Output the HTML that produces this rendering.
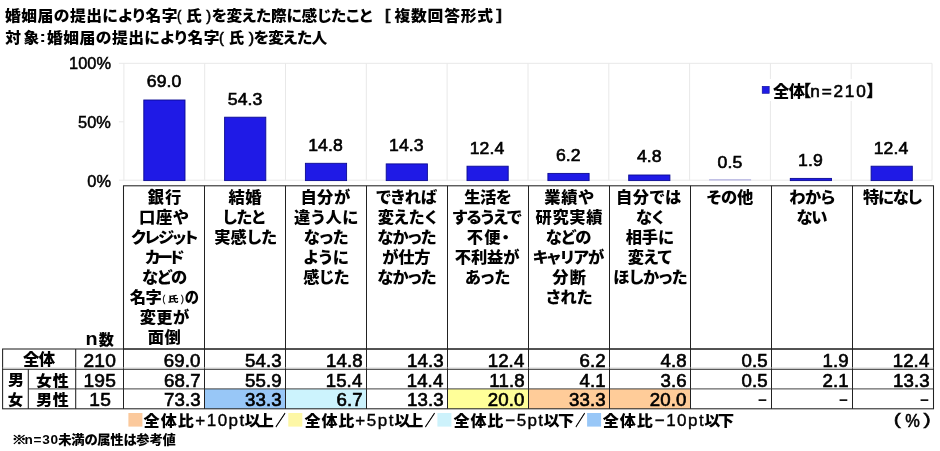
<!DOCTYPE html>
<html lang="ja"><head><meta charset="utf-8"><title>婚姻届の提出により名字（氏）を変えた際に感じたこと</title>
<style>html,body{margin:0;padding:0;background:#fff}body{width:940px;height:451px;overflow:hidden}svg{display:block;will-change:transform;opacity:.999}text{font-family:"Liberation Sans","Noto Sans CJK JP",sans-serif;fill:#000}</style></head><body>
<svg width="940" height="451" viewBox="0 0 940 451">
<rect width="940" height="451" fill="#fff"/>
<text transform="translate(5.03 20.90) scale(1.030 1)" font-size="15.30" font-weight="900" letter-spacing="0.51" style="font-feature-settings:'palt'">婚姻届の提出により名字</text>
<text transform="translate(176.92 20.60) scale(0.844 1)" font-size="15.50" font-weight="400" stroke="#000" stroke-width="0.60">(</text>
<text transform="translate(186.11 20.90) scale(1.033 1)" font-size="15.30" font-weight="900" style="font-feature-settings:'palt'">氏</text>
<text transform="translate(206.25 20.60) scale(0.943 1)" font-size="15.50" font-weight="400" stroke="#000" stroke-width="0.60">)</text>
<text transform="translate(211.71 20.90) scale(1.030 1)" font-size="15.30" font-weight="900" letter-spacing="-0.18" style="font-feature-settings:'palt'">を変えた際に感じたこと</text>
<text transform="translate(384.80 20.30) scale(1.290 1)" font-size="15.50" font-weight="400" stroke="#000" stroke-width="0.70">[</text>
<text transform="translate(394.44 20.90) scale(1.030 1)" font-size="15.30" font-weight="900" letter-spacing="0.80" style="font-feature-settings:'palt'">複数回答形式</text>
<text transform="translate(496.40 20.30) scale(1.323 1)" font-size="15.50" font-weight="400" stroke="#000" stroke-width="0.70">]</text>
<text transform="translate(5.18 43.00) scale(1.030 1)" font-size="15.30" font-weight="900" letter-spacing="2.50" style="font-feature-settings:'palt'">対象</text>
<text transform="translate(39.23 42.40) scale(1.336 1)" font-size="15.50" font-weight="700">:</text>
<text transform="translate(47.03 43.00) scale(1.030 1)" font-size="15.30" font-weight="900" letter-spacing="0.51" style="font-feature-settings:'palt'">婚姻届の提出により名字</text>
<text transform="translate(219.12 42.70) scale(0.943 1)" font-size="15.50" font-weight="400" stroke="#000" stroke-width="0.60">(</text>
<text transform="translate(228.63 43.00) scale(1.005 1)" font-size="15.30" font-weight="900" style="font-feature-settings:'palt'">氏</text>
<text transform="translate(248.64 42.70) scale(1.042 1)" font-size="15.50" font-weight="400" stroke="#000" stroke-width="0.60">)</text>
<text transform="translate(253.61 43.00) scale(1.030 1)" font-size="15.30" font-weight="900" letter-spacing="-0.50" style="font-feature-settings:'palt'">を変えた人</text>
<g stroke="#e8e8e8" stroke-width="1" fill="none">
<line x1="118.9" y1="63.3" x2="932.0" y2="63.3"/>
<line x1="118.9" y1="121.8" x2="123.9" y2="121.8"/>
<line x1="118.9" y1="180.2" x2="932.0" y2="180.2"/>
<line x1="123.9" y1="63.3" x2="123.9" y2="180.2"/>
<line x1="204.7" y1="63.3" x2="204.7" y2="180.2"/>
<line x1="285.5" y1="63.3" x2="285.5" y2="180.2"/>
<line x1="366.3" y1="63.3" x2="366.3" y2="180.2"/>
<line x1="447.1" y1="63.3" x2="447.1" y2="180.2"/>
<line x1="528.0" y1="63.3" x2="528.0" y2="180.2"/>
<line x1="608.8" y1="63.3" x2="608.8" y2="180.2"/>
<line x1="689.6" y1="63.3" x2="689.6" y2="180.2"/>
<line x1="770.4" y1="63.3" x2="770.4" y2="180.2"/>
<line x1="851.2" y1="63.3" x2="851.2" y2="180.2"/>
<line x1="932.0" y1="63.3" x2="932.0" y2="180.2"/>
</g>
<text x="69.07" y="69.30" font-size="16.40" font-weight="400" stroke="#000" stroke-width="0.50">100%</text>
<text x="78.09" y="128.30" font-size="16.40" font-weight="400" stroke="#000" stroke-width="0.50">50%</text>
<text x="87.28" y="187.20" font-size="16.40" font-weight="400" stroke="#000" stroke-width="0.50">0%</text>
<rect x="757" y="79" width="122" height="22" fill="#fff"/>
<rect x="762.2" y="86.3" width="7" height="7" fill="#1f1be4" stroke="#0c0c96" stroke-width="0.6"/>
<text transform="translate(772.88 96.50) scale(1.040 1)" font-size="15.60" font-weight="900" letter-spacing="-0.44">全体</text>
<text transform="translate(802.63 96.30) scale(1.009 1)" font-size="15.80" font-weight="900" stroke="#000" stroke-width="0.50" style="font-feature-settings:'palt'">【</text>
<text x="810.30" y="96.60" font-size="17.20" font-weight="400" letter-spacing="1.79" stroke="#000" stroke-width="0.60">n=210</text>
<text transform="translate(866.80 96.30) scale(1.009 1)" font-size="15.80" font-weight="900" stroke="#000" stroke-width="0.50" style="font-feature-settings:'palt'">】</text>
<rect x="143.8" y="100.0" width="41.2" height="80.6" fill="#1f1ae6" stroke="#0b0b92" stroke-width="0.9"/>
<text transform="translate(146.76 87.44) scale(1.050 1)" font-size="16.80" font-weight="400" letter-spacing="0.10" stroke="#000" stroke-width="0.60">69.0</text>
<rect x="224.6" y="117.2" width="41.2" height="63.4" fill="#1f1ae6" stroke="#0b0b92" stroke-width="0.9"/>
<text transform="translate(227.75 104.62) scale(1.050 1)" font-size="16.80" font-weight="400" letter-spacing="0.10" stroke="#000" stroke-width="0.60">54.3</text>
<rect x="305.4" y="163.3" width="41.2" height="17.3" fill="#1f1ae6" stroke="#0b0b92" stroke-width="0.9"/>
<text transform="translate(308.20 150.80) scale(1.050 1)" font-size="16.80" font-weight="400" letter-spacing="0.10" stroke="#000" stroke-width="0.60">14.8</text>
<rect x="386.2" y="163.9" width="41.2" height="16.7" fill="#1f1ae6" stroke="#0b0b92" stroke-width="0.9"/>
<text transform="translate(389.01 151.38) scale(1.050 1)" font-size="16.80" font-weight="400" letter-spacing="0.10" stroke="#000" stroke-width="0.60">14.3</text>
<rect x="467.0" y="166.2" width="41.2" height="14.4" fill="#1f1ae6" stroke="#0b0b92" stroke-width="0.9"/>
<text transform="translate(469.65 153.60) scale(1.050 1)" font-size="16.80" font-weight="400" letter-spacing="0.10" stroke="#000" stroke-width="0.60">12.4</text>
<rect x="547.9" y="173.4" width="41.2" height="7.2" fill="#1f1ae6" stroke="#0b0b92" stroke-width="0.9"/>
<text transform="translate(555.89 160.85) scale(1.050 1)" font-size="16.80" font-weight="400" letter-spacing="0.10" stroke="#000" stroke-width="0.60">6.2</text>
<rect x="628.7" y="175.0" width="41.2" height="5.6" fill="#1f1ae6" stroke="#0b0b92" stroke-width="0.9"/>
<text transform="translate(636.88 162.49) scale(1.050 1)" font-size="16.80" font-weight="400" letter-spacing="0.10" stroke="#000" stroke-width="0.60">4.8</text>
<rect x="709.1" y="179.2" width="42" height="1.3" fill="#b3b2e0"/>
<text transform="translate(717.51 167.52) scale(1.050 1)" font-size="16.80" font-weight="400" letter-spacing="0.10" stroke="#000" stroke-width="0.60">0.5</text>
<rect x="790.3" y="178.4" width="41.2" height="2.2" fill="#1f1ae6" stroke="#0b0b92" stroke-width="0.9"/>
<text transform="translate(798.06 165.88) scale(1.050 1)" font-size="16.80" font-weight="400" letter-spacing="0.10" stroke="#000" stroke-width="0.60">1.9</text>
<rect x="871.1" y="166.2" width="41.2" height="14.4" fill="#1f1ae6" stroke="#0b0b92" stroke-width="0.9"/>
<text transform="translate(873.70 153.60) scale(1.050 1)" font-size="16.80" font-weight="400" letter-spacing="0.10" stroke="#000" stroke-width="0.60">12.4</text>
<rect x="204.5" y="388.9" width="81.0" height="19.9" fill="#98c7f7"/>
<rect x="285.5" y="388.9" width="81.0" height="19.9" fill="#ccf3fd"/>
<rect x="447.5" y="388.9" width="81.0" height="19.9" fill="#ffff99"/>
<rect x="528.5" y="388.9" width="81.0" height="19.9" fill="#ffcc99"/>
<rect x="609.5" y="388.9" width="81.0" height="19.9" fill="#ffcc99"/>
<g stroke="#222" stroke-width="1.05" fill="none">
<rect x="123.5" y="185.8" width="810.0" height="163.2"/>
<line x1="204.5" y1="185.8" x2="204.5" y2="408.8"/>
<line x1="285.5" y1="185.8" x2="285.5" y2="408.8"/>
<line x1="366.5" y1="185.8" x2="366.5" y2="408.8"/>
<line x1="447.5" y1="185.8" x2="447.5" y2="408.8"/>
<line x1="528.5" y1="185.8" x2="528.5" y2="408.8"/>
<line x1="609.5" y1="185.8" x2="609.5" y2="408.8"/>
<line x1="690.5" y1="185.8" x2="690.5" y2="408.8"/>
<line x1="771.5" y1="185.8" x2="771.5" y2="408.8"/>
<line x1="852.5" y1="185.8" x2="852.5" y2="408.8"/>
<rect x="2.6" y="349.0" width="930.9" height="59.8"/>
<line x1="2.6" y1="369.3" x2="933.5" y2="369.3"/>
<line x1="28.3" y1="369.3" x2="28.3" y2="408.8"/>
<line x1="75.7" y1="349.0" x2="75.7" y2="408.8"/>
<line x1="123.5" y1="349.0" x2="123.5" y2="408.8"/>
</g>
<line x1="2.6" y1="367.9" x2="933.5" y2="367.9" stroke="#cfcfcf" stroke-width="0.7"/>
<line x1="28.3" y1="388.9" x2="933.5" y2="388.9" stroke="#383838" stroke-width="0.95"/>
<text transform="translate(147.74 203.00) scale(1.050 1)" font-size="15.50" font-weight="900" letter-spacing="1.01" style="font-feature-settings:'palt'">銀行</text>
<text transform="translate(138.94 223.00) scale(1.050 1)" font-size="15.50" font-weight="900" letter-spacing="0.83" style="font-feature-settings:'palt'">口座や</text>
<text transform="translate(131.31 243.00) scale(1.050 1)" font-size="15.50" font-weight="900" letter-spacing="-1.42" style="font-feature-settings:'palt'">クレジット</text>
<text transform="translate(145.01 263.00) scale(1.050 1)" font-size="15.50" font-weight="900" letter-spacing="-2.86" style="font-feature-settings:'palt'">カード</text>
<text transform="translate(141.89 283.00) scale(1.050 1)" font-size="15.50" font-weight="900" letter-spacing="-0.58" style="font-feature-settings:'palt'">などの</text>
<text transform="translate(129.67 303.00) scale(1.050 1)" font-size="15.50" font-weight="900" letter-spacing="-0.33" style="font-feature-settings:'palt'">名字</text>
<text transform="translate(162.42 301.80) scale(0.850 1)" font-size="9.50" font-weight="400" stroke="#000" stroke-width="0.30">(</text>
<text transform="translate(167.66 302.00) scale(1.311 1)" font-size="8.20" font-weight="900" style="font-feature-settings:'palt'">氏</text>
<text transform="translate(181.12 301.80) scale(0.891 1)" font-size="9.50" font-weight="400" stroke="#000" stroke-width="0.30">)</text>
<text transform="translate(184.79 303.00) scale(0.921 1)" font-size="15.50" font-weight="900" style="font-feature-settings:'palt'">の</text>
<text transform="translate(139.67 323.00) scale(1.050 1)" font-size="15.50" font-weight="900" letter-spacing="0.36" style="font-feature-settings:'palt'">変更が</text>
<text transform="translate(147.69 343.00) scale(1.050 1)" font-size="15.50" font-weight="900" letter-spacing="0.55" style="font-feature-settings:'palt'">面倒</text>
<text transform="translate(228.54 203.00) scale(1.050 1)" font-size="15.50" font-weight="900" letter-spacing="0.55" style="font-feature-settings:'palt'">結婚</text>
<text transform="translate(222.82 223.00) scale(1.050 1)" font-size="15.50" font-weight="900" letter-spacing="-0.54" style="font-feature-settings:'palt'">したと</text>
<text transform="translate(214.25 243.00) scale(1.050 1)" font-size="15.50" font-weight="900" letter-spacing="0.07" style="font-feature-settings:'palt'">実感した</text>
<text transform="translate(300.38 203.00) scale(1.050 1)" font-size="15.50" font-weight="900" letter-spacing="0.45" style="font-feature-settings:'palt'">自分が</text>
<text transform="translate(294.07 223.00) scale(1.050 1)" font-size="15.50" font-weight="900" letter-spacing="0.75" style="font-feature-settings:'palt'">違う人に</text>
<text transform="translate(303.69 243.00) scale(1.050 1)" font-size="15.50" font-weight="900" letter-spacing="0.03" style="font-feature-settings:'palt'">なった</text>
<text transform="translate(303.36 263.00) scale(1.050 1)" font-size="15.50" font-weight="900" letter-spacing="0.73" style="font-feature-settings:'palt'">ように</text>
<text transform="translate(303.27 283.00) scale(1.050 1)" font-size="15.50" font-weight="900" letter-spacing="-0.19" style="font-feature-settings:'palt'">感じた</text>
<text transform="translate(376.27 203.00) scale(1.050 1)" font-size="15.50" font-weight="900" letter-spacing="-0.27" style="font-feature-settings:'palt'">できれば</text>
<text transform="translate(377.67 223.00) scale(1.050 1)" font-size="15.50" font-weight="900" letter-spacing="0.23" style="font-feature-settings:'palt'">変えたく</text>
<text transform="translate(377.19 243.00) scale(1.050 1)" font-size="15.50" font-weight="900" letter-spacing="-0.49" style="font-feature-settings:'palt'">なかった</text>
<text transform="translate(382.25 263.00) scale(1.050 1)" font-size="15.50" font-weight="900" letter-spacing="-0.17" style="font-feature-settings:'palt'">が仕方</text>
<text transform="translate(377.19 283.00) scale(1.050 1)" font-size="15.50" font-weight="900" letter-spacing="-0.49" style="font-feature-settings:'palt'">なかった</text>
<text transform="translate(464.17 203.00) scale(1.050 1)" font-size="15.50" font-weight="900" letter-spacing="-0.37" style="font-feature-settings:'palt'">生活を</text>
<text transform="translate(452.51 223.00) scale(1.050 1)" font-size="15.50" font-weight="900" letter-spacing="-0.64" style="font-feature-settings:'palt'">するうえで</text>
<text transform="translate(466.65 243.00) scale(1.050 1)" font-size="15.50" font-weight="900" letter-spacing="1.20" style="font-feature-settings:'palt'">不便・</text>
<text transform="translate(454.81 263.00) scale(1.050 1)" font-size="15.50" font-weight="900" letter-spacing="-0.14" style="font-feature-settings:'palt'">不利益が</text>
<text transform="translate(464.76 283.00) scale(1.050 1)" font-size="15.50" font-weight="900" letter-spacing="0.24" style="font-feature-settings:'palt'">あった</text>
<text transform="translate(544.17 203.00) scale(1.050 1)" font-size="15.50" font-weight="900" letter-spacing="0.86" style="font-feature-settings:'palt'">業績や</text>
<text transform="translate(535.57 223.00) scale(1.050 1)" font-size="15.50" font-weight="900" letter-spacing="0.59" style="font-feature-settings:'palt'">研究実績</text>
<text transform="translate(545.69 243.00) scale(1.050 1)" font-size="15.50" font-weight="900" letter-spacing="-0.39" style="font-feature-settings:'palt'">などの</text>
<text transform="translate(532.66 263.00) scale(1.050 1)" font-size="15.50" font-weight="900" letter-spacing="-0.60" style="font-feature-settings:'palt'">キャリアが</text>
<text transform="translate(552.14 283.00) scale(1.050 1)" font-size="15.50" font-weight="900" letter-spacing="1.27" style="font-feature-settings:'palt'">分断</text>
<text transform="translate(546.10 303.00) scale(1.050 1)" font-size="15.50" font-weight="900" letter-spacing="0.08" style="font-feature-settings:'palt'">された</text>
<text transform="translate(615.88 203.00) scale(1.050 1)" font-size="15.50" font-weight="900" letter-spacing="0.59" style="font-feature-settings:'palt'">自分では</text>
<text transform="translate(635.89 223.00) scale(1.050 1)" font-size="15.50" font-weight="900" letter-spacing="-0.04" style="font-feature-settings:'palt'">なく</text>
<text transform="translate(625.77 243.00) scale(1.050 1)" font-size="15.50" font-weight="900" letter-spacing="-0.16" style="font-feature-settings:'palt'">相手に</text>
<text transform="translate(627.77 263.00) scale(1.050 1)" font-size="15.50" font-weight="900" letter-spacing="-0.12" style="font-feature-settings:'palt'">変えて</text>
<text transform="translate(613.30 283.00) scale(1.050 1)" font-size="15.50" font-weight="900" letter-spacing="-0.29" style="font-feature-settings:'palt'">ほしかった</text>
<text transform="translate(706.59 203.00) scale(1.050 1)" font-size="15.50" font-weight="900" letter-spacing="-0.11" style="font-feature-settings:'palt'">その他</text>
<text transform="translate(789.09 203.00) scale(1.050 1)" font-size="15.50" font-weight="900" letter-spacing="-0.37" style="font-feature-settings:'palt'">わから</text>
<text transform="translate(796.39 223.00) scale(1.050 1)" font-size="15.50" font-weight="900" letter-spacing="-0.85" style="font-feature-settings:'palt'">ない</text>
<text transform="translate(862.94 203.00) scale(1.050 1)" font-size="15.50" font-weight="900" letter-spacing="-1.00" style="font-feature-settings:'palt'">特になし</text>
<text transform="translate(85.51 345.40) scale(1.100 1)" font-size="18.00" font-weight="700">n</text>
<text transform="translate(98.80 344.90) scale(0.994 1)" font-size="15.20" font-weight="900" style="font-feature-settings:'palt'">数</text>
<text transform="translate(22.97 365.20) scale(1.050 1)" font-size="15.60" font-weight="900" letter-spacing="-0.64">全体</text>
<text transform="translate(35.96 385.50) scale(1.050 1)" font-size="15.20" font-weight="900" letter-spacing="0.76">女性</text>
<text transform="translate(36.28 405.30) scale(1.050 1)" font-size="15.20" font-weight="900" letter-spacing="0.46">男性</text>
<text transform="translate(7.98 384.80) scale(1.083 1)" font-size="14.80" font-weight="900" style="font-feature-settings:'palt'">男</text>
<text transform="translate(7.69 405.20) scale(1.036 1)" font-size="14.80" font-weight="900" style="font-feature-settings:'palt'">女</text>
<text transform="translate(83.38 366.70) scale(1.090 1)" font-size="17.60" font-weight="400" letter-spacing="0.30" stroke="#000" stroke-width="0.62">210</text>
<text transform="translate(163.85 366.70) scale(1.060 1)" font-size="17.60" font-weight="400" letter-spacing="0.10" stroke="#000" stroke-width="0.62">69.0</text>
<text transform="translate(245.04 366.70) scale(1.060 1)" font-size="17.60" font-weight="400" letter-spacing="0.10" stroke="#000" stroke-width="0.62">54.3</text>
<text transform="translate(326.04 366.70) scale(1.060 1)" font-size="17.60" font-weight="400" letter-spacing="0.10" stroke="#000" stroke-width="0.62">14.8</text>
<text transform="translate(407.04 366.70) scale(1.060 1)" font-size="17.60" font-weight="400" letter-spacing="0.10" stroke="#000" stroke-width="0.62">14.3</text>
<text transform="translate(487.66 366.70) scale(1.060 1)" font-size="17.60" font-weight="400" letter-spacing="0.10" stroke="#000" stroke-width="0.62">12.4</text>
<text transform="translate(579.59 366.70) scale(1.060 1)" font-size="17.60" font-weight="400" letter-spacing="0.10" stroke="#000" stroke-width="0.62">6.2</text>
<text transform="translate(660.40 366.70) scale(1.060 1)" font-size="17.60" font-weight="400" letter-spacing="0.10" stroke="#000" stroke-width="0.62">4.8</text>
<text transform="translate(741.40 366.70) scale(1.060 1)" font-size="17.60" font-weight="400" letter-spacing="0.10" stroke="#000" stroke-width="0.62">0.5</text>
<text transform="translate(822.59 366.70) scale(1.060 1)" font-size="17.60" font-weight="400" letter-spacing="0.10" stroke="#000" stroke-width="0.62">1.9</text>
<text transform="translate(892.66 366.70) scale(1.060 1)" font-size="17.60" font-weight="400" letter-spacing="0.10" stroke="#000" stroke-width="0.62">12.4</text>
<text transform="translate(83.38 386.70) scale(1.090 1)" font-size="17.60" font-weight="400" letter-spacing="0.30" stroke="#000" stroke-width="0.62">195</text>
<text transform="translate(164.04 386.70) scale(1.060 1)" font-size="17.60" font-weight="400" letter-spacing="0.10" stroke="#000" stroke-width="0.62">68.7</text>
<text transform="translate(245.04 386.70) scale(1.060 1)" font-size="17.60" font-weight="400" letter-spacing="0.10" stroke="#000" stroke-width="0.62">55.9</text>
<text transform="translate(325.66 386.70) scale(1.060 1)" font-size="17.60" font-weight="400" letter-spacing="0.10" stroke="#000" stroke-width="0.62">15.4</text>
<text transform="translate(406.66 386.70) scale(1.060 1)" font-size="17.60" font-weight="400" letter-spacing="0.10" stroke="#000" stroke-width="0.62">14.4</text>
<text transform="translate(489.34 386.70) scale(1.060 1)" font-size="17.60" font-weight="400" letter-spacing="0.10" stroke="#000" stroke-width="0.62">11.8</text>
<text transform="translate(579.59 386.70) scale(1.060 1)" font-size="17.60" font-weight="400" letter-spacing="0.10" stroke="#000" stroke-width="0.62">4.1</text>
<text transform="translate(660.40 386.70) scale(1.060 1)" font-size="17.60" font-weight="400" letter-spacing="0.10" stroke="#000" stroke-width="0.62">3.6</text>
<text transform="translate(741.40 386.70) scale(1.060 1)" font-size="17.60" font-weight="400" letter-spacing="0.10" stroke="#000" stroke-width="0.62">0.5</text>
<text transform="translate(822.59 386.70) scale(1.060 1)" font-size="17.60" font-weight="400" letter-spacing="0.10" stroke="#000" stroke-width="0.62">2.1</text>
<text transform="translate(893.04 386.70) scale(1.060 1)" font-size="17.60" font-weight="400" letter-spacing="0.10" stroke="#000" stroke-width="0.62">13.3</text>
<text transform="translate(89.25 406.20) scale(1.090 1)" font-size="17.60" font-weight="400" letter-spacing="0.30" stroke="#000" stroke-width="0.62">15</text>
<text transform="translate(164.04 406.20) scale(1.060 1)" font-size="17.60" font-weight="400" letter-spacing="0.10" stroke="#000" stroke-width="0.62">73.3</text>
<text transform="translate(245.04 406.20) scale(1.060 1)" font-size="17.60" font-weight="400" letter-spacing="0.10" stroke="#000" stroke-width="0.62">33.3</text>
<text transform="translate(336.59 406.20) scale(1.060 1)" font-size="17.60" font-weight="400" letter-spacing="0.10" stroke="#000" stroke-width="0.62">6.7</text>
<text transform="translate(407.04 406.20) scale(1.060 1)" font-size="17.60" font-weight="400" letter-spacing="0.10" stroke="#000" stroke-width="0.62">13.3</text>
<text transform="translate(487.85 406.20) scale(1.060 1)" font-size="17.60" font-weight="400" letter-spacing="0.10" stroke="#000" stroke-width="0.62">20.0</text>
<text transform="translate(569.04 406.20) scale(1.060 1)" font-size="17.60" font-weight="400" letter-spacing="0.10" stroke="#000" stroke-width="0.62">33.3</text>
<text transform="translate(649.85 406.20) scale(1.060 1)" font-size="17.60" font-weight="400" letter-spacing="0.10" stroke="#000" stroke-width="0.62">20.0</text>
<text transform="translate(757.88 404.60) scale(1.027 1)" font-size="15.00" font-weight="700">−</text>
<text transform="translate(838.88 404.60) scale(1.027 1)" font-size="15.00" font-weight="700">−</text>
<text transform="translate(919.88 404.60) scale(1.027 1)" font-size="15.00" font-weight="700">−</text>
<rect x="128.4" y="413" width="14" height="13.6" fill="#fbc99c"/>
<text transform="translate(143.58 426.10) scale(1.060 1)" font-size="15.20" font-weight="900" letter-spacing="0.92">全体比</text>
<text x="195.35" y="426.40" font-size="17.00" font-weight="400" letter-spacing="1.48" stroke="#000" stroke-width="0.40">+10pt</text>
<text transform="translate(244.58 426.10) scale(1.060 1)" font-size="15.20" font-weight="900" letter-spacing="-2.79">以上</text>
<text transform="translate(275.60 426.40) scale(0.667 1)" font-size="15.00" font-weight="400" stroke="#000" stroke-width="0.55">／</text>
<rect x="288.3" y="413" width="14" height="13.6" fill="#fdf7a6"/>
<text transform="translate(304.58 426.10) scale(1.060 1)" font-size="15.20" font-weight="900" letter-spacing="0.73">全体比</text>
<text x="355.35" y="426.40" font-size="17.00" font-weight="400" letter-spacing="1.52" stroke="#000" stroke-width="0.40">+5pt</text>
<text transform="translate(394.18 426.10) scale(1.060 1)" font-size="15.20" font-weight="900" letter-spacing="-2.88">以上</text>
<text transform="translate(425.10 426.40) scale(0.667 1)" font-size="15.00" font-weight="400" stroke="#000" stroke-width="0.55">／</text>
<rect x="437.4" y="413" width="14" height="13.6" fill="#cdf2fb"/>
<text transform="translate(453.58 426.10) scale(1.060 1)" font-size="15.20" font-weight="900" letter-spacing="0.73">全体比</text>
<text x="505.35" y="426.40" font-size="17.00" font-weight="400" letter-spacing="1.39" stroke="#000" stroke-width="0.40">−5pt</text>
<text transform="translate(543.58 426.10) scale(1.060 1)" font-size="15.20" font-weight="900" letter-spacing="-1.69">以下</text>
<text transform="translate(575.52 426.40) scale(0.638 1)" font-size="15.00" font-weight="400" stroke="#000" stroke-width="0.55">／</text>
<rect x="587.1" y="413" width="14" height="13.6" fill="#98c7f7"/>
<text transform="translate(602.68 426.10) scale(1.060 1)" font-size="15.20" font-weight="900" letter-spacing="0.92">全体比</text>
<text x="654.75" y="426.40" font-size="17.00" font-weight="400" letter-spacing="1.48" stroke="#000" stroke-width="0.40">−10pt</text>
<text transform="translate(704.18 426.10) scale(1.060 1)" font-size="15.20" font-weight="900" letter-spacing="-2.26">以下</text>
<text transform="translate(893.63 424.60) scale(1.298 1)" font-size="16.30" font-weight="400" stroke="#000" stroke-width="0.55">(</text>
<text transform="translate(905.14 426.60) scale(0.922 1)" font-size="17.80" font-weight="400" stroke="#000" stroke-width="0.55">%</text>
<text transform="translate(923.58 424.60) scale(1.321 1)" font-size="16.30" font-weight="400" stroke="#000" stroke-width="0.55">)</text>
<text transform="translate(11.72 444.20) scale(1.152 1)" font-size="12.90" font-weight="900" stroke="#000" stroke-width="0.50" style="font-feature-settings:'palt'">※</text>
<text x="24.55" y="444.40" font-size="13.60" font-weight="700" letter-spacing="0.71">n=30</text>
<text transform="translate(58.23 444.20) scale(1.040 1)" font-size="12.80" font-weight="900" letter-spacing="-0.21" style="font-feature-settings:'palt'">未満の属性は参考値</text>
</svg></body></html>
